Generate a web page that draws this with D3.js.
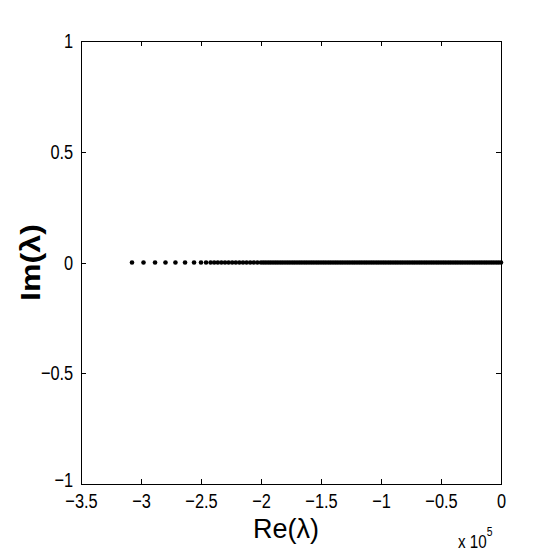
<!DOCTYPE html>
<html>
<head>
<meta charset="utf-8">
<script src="https://cdn.jsdelivr.net/npm/d3@7"></script>
<style>
  body { margin: 0; background: #fff; }
  text { font-family: "Liberation Sans", Arial, sans-serif; fill: #000; }
  .tick text { font-size: 21px; }
  .axis path, .axis line { stroke: #000; shape-rendering: crispEdges; }
</style>
</head>
<body>
<div id="chart"></div>
<script>
var reSparse = [-3.075, -2.979, -2.883, -2.796, -2.713, -2.633, -2.558, -2.500, -2.458];
var reDense = [
  -2.42, -2.39, -2.36, -2.33, -2.30, -2.27, -2.24, -2.21, -2.18, -2.15,
  -2.12, -2.09, -2.06, -2.03, -2.00, -1.98, -1.96, -1.94, -1.92, -1.90,
  -1.88, -1.86, -1.84, -1.82, -1.80, -1.78, -1.76, -1.74, -1.72, -1.70,
  -1.68, -1.66, -1.64, -1.62, -1.60, -1.58, -1.56, -1.54, -1.52, -1.50,
  -1.48, -1.46, -1.44, -1.42, -1.40, -1.38, -1.36, -1.34, -1.32, -1.30,
  -1.28, -1.26, -1.24, -1.22, -1.20, -1.18, -1.16, -1.14, -1.12, -1.10,
  -1.08, -1.06, -1.04, -1.02, -1.00, -0.98, -0.96, -0.94, -0.92, -0.90,
  -0.88, -0.86, -0.84, -0.82, -0.80, -0.78, -0.76, -0.74, -0.72, -0.70,
  -0.68, -0.66, -0.64, -0.62, -0.60, -0.58, -0.56, -0.54, -0.52, -0.50,
  -0.48, -0.46, -0.44, -0.42, -0.40, -0.38, -0.36, -0.34, -0.32, -0.30,
  -0.28, -0.26, -0.24, -0.22, -0.20, -0.18, -0.16, -0.14, -0.12, -0.10,
  -0.08, -0.06, -0.04, -0.02, 0
];
var xTicks = [-3.5, -3, -2.5, -2, -1.5, -1, -0.5, 0];
var yTicks = [-1, -0.5, 0, 0.5, 1];

var data = reSparse.concat(reDense).map(function(r) { return {re: r, im: 0}; });

var W = 554, H = 554;
var margin = {top: 41, right: 53, bottom: 70, left: 81};
var w = W - margin.left - margin.right;
var h = H - margin.top - margin.bottom;

var svg = d3.select('#chart').append('svg')
  .attr('width', W)
  .attr('height', H);

var g = svg.append('g')
  .attr('transform', `translate(${margin.left},${margin.top})`);

var x = d3.scaleLinear().domain([-3.5, 0]).range([0, w]);
var y = d3.scaleLinear().domain([-1, 1]).range([h, 0]);

var fmt = function(d) { return String(d).replace('-', '\u2212'); };

// box with inward ticks on all four sides (matlab style)
g.append('g').attr('class', 'axis')
  .attr('transform', `translate(0,${h})`)
  .call(d3.axisBottom(x).tickValues(xTicks).tickSize(-5).tickPadding(9).tickFormat(fmt));
g.append('g').attr('class', 'axis')
  .call(d3.axisTop(x).tickValues(xTicks).tickSize(-5).tickFormat(''));
g.append('g').attr('class', 'axis y')
  .call(d3.axisLeft(y).tickValues(yTicks).tickSize(-5).tickPadding(10).tickFormat(fmt));
g.append('g').attr('class', 'axis')
  .attr('transform', `translate(${w},0)`)
  .call(d3.axisRight(y).tickValues(yTicks).tickSize(-5).tickFormat(''));

// narrow look of the matlab font
g.selectAll('.tick text').attr('transform', 'scale(0.78,1)');
// lift the -1 a bit so it doesn't sit on top of -3.5
g.selectAll('.y .tick text').filter((d) => d === -1).attr('dy', '0.1em');

// points
g.selectAll('circle')
  .data(data)
  .enter().append('circle')
  .attr('cx', (d) => x(d.re))
  .attr('cy', (d) => y(d.im))
  .attr('r', 2.3)
  .style('fill', '#000');

// labels
svg.append('text')
  .attr('x', margin.left + w / 2 - 5)
  .attr('y', 538)
  .attr('text-anchor', 'middle')
  .style('font-size', '27px')
  .text('Re(\u03bb)');

svg.append('text')
  .attr('transform', `translate(40,${margin.top + h / 2}) rotate(-90) scale(1.15,1)`)
  .attr('text-anchor', 'middle')
  .style('font-size', '28px')
  .style('font-weight', 'bold')
  .text('Im(\u03bb)');

var mult = svg.append('text')
  .attr('transform', 'translate(458,548) scale(0.8,1)')
  .style('font-size', '19px');
mult.append('tspan').text('x 10');
mult.append('tspan').attr('dy', -12).style('font-size', '13px').text('5');
</script>
</body>
</html>
